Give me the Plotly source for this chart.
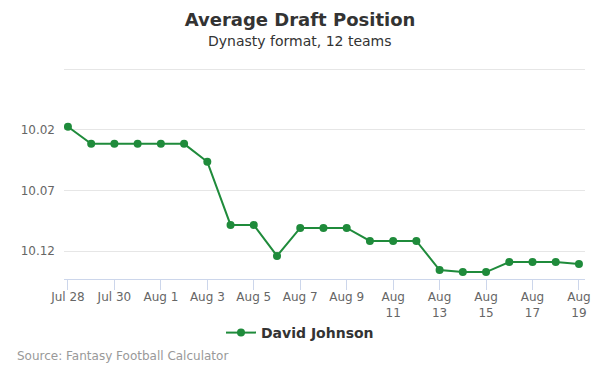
import plotly.graph_objects as go

dates = ["Jul 28", "Jul 29", "Jul 30", "Jul 31", "Aug 1", "Aug 2", "Aug 3", "Aug 4",
         "Aug 5", "Aug 6", "Aug 7", "Aug 8", "Aug 9", "Aug 10", "Aug 11", "Aug 12",
         "Aug 13", "Aug 14", "Aug 15", "Aug 16", "Aug 17", "Aug 18", "Aug 19"]
adp = [10.0175, 10.0316, 10.0316, 10.0316, 10.0316, 10.0316, 10.0464, 10.0985,
       10.0985, 10.1241, 10.1010, 10.1010, 10.1010, 10.1117, 10.1117, 10.1117,
       10.1357, 10.1374, 10.1374, 10.1291, 10.1291, 10.1291, 10.1307]
tick_labels = ["Jul 28", "Jul 30", "Aug 1", "Aug 3", "Aug 5", "Aug 7", "Aug 9",
               "Aug<br>11", "Aug<br>13", "Aug<br>15", "Aug<br>17", "Aug<br>19"]
y_ticks = [9.97, 10.02, 10.07, 10.12]
y_tick_labels = [" ", "10.02", "10.07", "10.12"]

idx = list(range(len(dates)))
tick_idx = idx[::2]

FONT = "DejaVu Sans"
L, R, T, B = 64, 15, 68, 96
W, H = 600, 375
plot_w = W - L - R
plot_h = H - T - B


def px_x(px):
    return (px - L) / plot_w


def px_y(py):
    return (H - B - py) / plot_h


fig = go.Figure()
fig.add_trace(go.Scatter(
    x=idx, y=adp, mode="lines+markers", name="<b>David Johnson</b>",
    line=dict(color="#1f8b3b", width=2),
    marker=dict(color="#1f8b3b", size=8),
    customdata=dates,
    hovertemplate="%{customdata}: %{y}<extra></extra>",
))

fig.update_layout(
    width=W, height=H,
    margin=dict(l=L, r=R, t=T, b=B, autoexpand=False),
    paper_bgcolor="white", plot_bgcolor="white",
    font=dict(family=FONT, color="#666666", size=12),
    title=dict(
        text="<b>Average Draft Position</b>",
        x=0.5, xanchor="center", y=(H - 20) / H, yanchor="middle",
        font=dict(size=18, color="#333333", family=FONT),
    ),
    showlegend=True,
    legend=dict(
        orientation="h", x=px_x(300), xanchor="center", y=px_y(333), yanchor="middle",
        font=dict(size=14, color="#333333", family=FONT),
    ),
    xaxis=dict(
        range=[-0.17, 22.26],
        tickvals=tick_idx, ticktext=tick_labels,
        showgrid=False, zeroline=False,
        showline=True, linecolor="#ccd6eb", linewidth=1,
        ticks="outside", ticklen=10, tickcolor="#ccd6eb",
        ticklabelstandoff=-3,
        tickfont=dict(size=12, color="#666666"),
        fixedrange=True,
    ),
    yaxis=dict(
        range=[10.1431, 9.969],
        tickvals=y_ticks, ticktext=y_tick_labels,
        showgrid=True, gridcolor="#e6e6e6", gridwidth=1,
        zeroline=False, showline=False,
        ticks="", ticklabelstandoff=8,
        tickfont=dict(size=12, color="#666666"),
        fixedrange=True,
    ),
    annotations=[
        dict(text="Dynasty format, 12 teams", x=px_x(300), xref="paper", xanchor="center",
             y=px_y(41), yref="paper", yanchor="middle", showarrow=False,
             font=dict(size=14, color="#333333", family=FONT)),
        dict(text="Source: Fantasy Football Calculator", x=px_x(15), xref="paper",
             y=px_y(356), yref="paper", xanchor="left", yanchor="middle", showarrow=False,
             font=dict(size=12, color="#999999", family=FONT)),
    ],
)

fig.write_html("out.html", config={"displayModeBar": False},
               post_script="document.body.style.margin='0';")
